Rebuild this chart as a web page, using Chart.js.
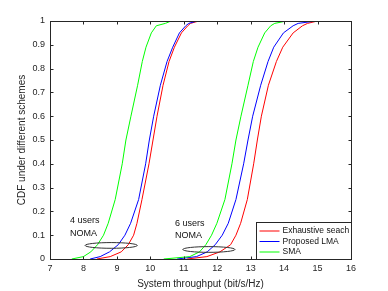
<!DOCTYPE html>
<html>
<head>
<meta charset="utf-8">
<script src="https://cdn.jsdelivr.net/npm/chart.js@4.4.1/dist/chart.umd.min.js"></script>
<style>
  html, body { margin: 0; padding: 0; background: #fff; }
  #wrap { width: 388px; height: 291px; }
</style>
</head>
<body>
<div id="wrap"><canvas id="cdfChart" width="388" height="291"></canvas></div>
<script>
/* CDF levels shared by every curve */
const cdfLevels = [0, 0.01, 0.03, 0.06, 0.1, 0.15, 0.25, 0.4, 0.5, 0.6, 0.73, 0.83, 0.89, 0.95, 0.98, 0.99, 1];

/* throughput (bit/s/Hz) read at each CDF level, 4 users NOMA */
const exhaustive4 = [8.4, 8.8, 9.13, 9.34, 9.5, 9.6, 9.75, 9.96, 10.08, 10.2, 10.38, 10.56, 10.72, 10.93, 11.12, 11.2, 11.45];
const lma4 = [8.2, 8.5, 8.78, 9.04, 9.24, 9.41, 9.65, 9.86, 9.97, 10.1, 10.3, 10.5, 10.67, 10.87, 11.06, 11.15, 11.4];
const sma4 = [7.65, 8.0, 8.22, 8.42, 8.6, 8.74, 8.95, 9.16, 9.27, 9.42, 9.62, 9.76, 9.87, 10.03, 10.18, 10.45, 10.62];

/* same, 6 users NOMA */
const exhaustive6 = [11.1, 11.69, 12.08, 12.4, 12.56, 12.7, 12.9, 13.09, 13.2, 13.32, 13.53, 13.77, 13.96, 14.27, 14.55, 14.7, 15.0];
const lma6 = [10.8, 11.38, 11.7, 11.94, 12.15, 12.33, 12.56, 12.79, 12.92, 13.06, 13.3, 13.52, 13.69, 13.98, 14.27, 14.42, 14.95];
const sma6 = [10.4, 11.18, 11.47, 11.66, 11.83, 11.99, 12.23, 12.44, 12.56, 12.71, 12.92, 13.08, 13.22, 13.42, 13.6, 13.72, 14.07];

const schemeNames = ['Exhaustive seach', 'Proposed LMA', 'SMA'];
const xTicks = [7, 8, 9, 10, 11, 12, 13, 14, 15, 16];
const yTicks = [0, 0.1, 0.2, 0.3, 0.4, 0.5, 0.6, 0.7, 0.8, 0.9, 1];
const yTickLabels = ['0', '0.1', '0.2', '0.3', '0.4', '0.5', '0.6', '0.7', '0.8', '0.9', '1'];

/* user-group notes: text, ellipse centre (data units) */
const noteLines = [['4 users', 'NOMA'], ['6 users', 'NOMA']];
const noteTextX = [7.6, 10.74];
const noteTextY = [[0.16, 0.105], [0.148, 0.1]];
const ellipseX = [8.83, 11.75];
const ellipseY = [0.057, 0.04];

const colors = ['rgb(255,0,0)', 'rgb(0,0,255)', 'rgb(0,255,0)'];
const axisColor = '#262626';
const fontFamily = '"Liberation Sans", Arial, sans-serif';

/* joins the two curves of one scheme with a gap in between */
function curvePoints(a, b) {
  const pts = a.map((v, i) => ({ x: v, y: cdfLevels[i] }));
  pts.push({ x: (a[a.length - 1] + b[0]) / 2, y: null });
  return pts.concat(b.map((v, i) => ({ x: v, y: cdfLevels[i] })));
}

const series = [
  curvePoints(exhaustive4, exhaustive6),
  curvePoints(lma4, lma6),
  curvePoints(sma4, sma6)
];

/* box, inward ticks, notes and legend, drawn the MATLAB way */
const matlabAxes = {
  id: 'matlabAxes',
  afterDatasetsDraw(chart) {
    const { ctx, chartArea: a, scales: { x, y } } = chart;
    ctx.save();

    // ellipses
    ctx.strokeStyle = '#333';
    ctx.lineWidth = 1;
    ellipseX.forEach((cx, i) => {
      const px = x.getPixelForValue(cx);
      const py = y.getPixelForValue(ellipseY[i]);
      const rx = x.getPixelForValue(cx + 0.78) - px;
      const ry = py - y.getPixelForValue(ellipseY[i] + 0.012);
      ctx.beginPath();
      ctx.ellipse(px, py, rx, ry, 0, 0, Math.PI * 2);
      ctx.stroke();
    });

    // note texts
    ctx.fillStyle = '#111';
    ctx.font = '9px ' + fontFamily;
    ctx.textBaseline = 'middle';
    ctx.textAlign = 'left';
    noteLines.forEach((lines, i) => {
      lines.forEach((t, j) => {
        ctx.fillText(t, x.getPixelForValue(noteTextX[i]), y.getPixelForValue(noteTextY[i][j]));
      });
    });

    // axes box
    const L = Math.round(a.left) + 0.5, R = Math.round(a.right) + 0.5;
    const T = Math.round(a.top) + 0.5, B = Math.round(a.bottom) + 0.5;
    ctx.strokeStyle = axisColor;
    ctx.lineWidth = 1;
    ctx.strokeRect(L, T, R - L, B - T);

    // inward ticks
    ctx.beginPath();
    xTicks.forEach(v => {
      const px = Math.round(x.getPixelForValue(v)) + 0.5;
      ctx.moveTo(px, B); ctx.lineTo(px, B - 3);
      ctx.moveTo(px, T); ctx.lineTo(px, T + 3);
    });
    yTicks.forEach(v => {
      const py = Math.round(y.getPixelForValue(v)) + 0.5;
      ctx.moveTo(L, py); ctx.lineTo(L + 3, py);
      ctx.moveTo(R, py); ctx.lineTo(R - 3, py);
    });
    ctx.stroke();

    // legend in lower right corner
    const lw = 95, lh = 37;
    const lx = R - lw, ly = B - lh;
    ctx.fillStyle = '#fff';
    ctx.fillRect(lx, ly, lw, lh);
    ctx.strokeRect(lx, ly, lw, lh);
    ctx.font = '8.5px ' + fontFamily;
    schemeNames.forEach((name, i) => {
      const ry = ly + 8.5 + i * 10.5;
      ctx.strokeStyle = colors[i];
      ctx.beginPath();
      ctx.moveTo(lx + 3, ry); ctx.lineTo(lx + 23, ry);
      ctx.stroke();
      ctx.fillStyle = '#111';
      ctx.fillText(name, lx + 26, ry);
    });

    ctx.restore();
  }
};

const config = {
  type: 'scatter',
  data: {
    datasets: schemeNames.map((name, i) => ({
      label: name,
      data: series[i],
      showLine: true,
      borderColor: colors[i],
      backgroundColor: colors[i],
      borderWidth: 1,
      pointRadius: 0,
      pointHoverRadius: 0,
      spanGaps: false,
      order: 3 - i
    }))
  },
  options: {
    responsive: false,
    animation: false,
    devicePixelRatio: 1,
    layout: { padding: { left: 0, right: 37, top: 21, bottom: 0 } },
    plugins: { legend: { display: false }, tooltip: { enabled: false } },
    scales: {
      x: {
        type: 'linear',
        min: 7,
        max: 16,
        afterBuildTicks: s => { s.ticks = xTicks.map(v => ({ value: v })); },
        afterFit: s => { s.height = 32; },
        grid: { display: false, drawTicks: false },
        border: { display: false },
        ticks: { color: axisColor, padding: 4, maxRotation: 0, font: { family: fontFamily, size: 9 } },
        title: {
          display: true,
          text: 'System throughput (bit/s/Hz)',
          color: axisColor,
          padding: { top: 0, bottom: 1 },
          font: { family: fontFamily, size: 10 }
        }
      },
      y: {
        type: 'linear',
        min: 0,
        max: 1,
        afterBuildTicks: s => { s.ticks = yTicks.map(v => ({ value: v })); },
        afterFit: s => { s.width = 50; },
        grid: { display: false, drawTicks: false },
        border: { display: false },
        ticks: {
          color: axisColor,
          padding: 5,
          font: { family: fontFamily, size: 9 },
          callback: (v, i) => yTickLabels[i]
        },
        title: {
          display: true,
          text: 'CDF under different schemes',
          color: axisColor,
          padding: { top: 16, bottom: 0 },
          font: { family: fontFamily, size: 10 }
        }
      }
    }
  },
  plugins: [matlabAxes]
};

new Chart(document.getElementById('cdfChart').getContext('2d'), config);
</script>
</body>
</html>
